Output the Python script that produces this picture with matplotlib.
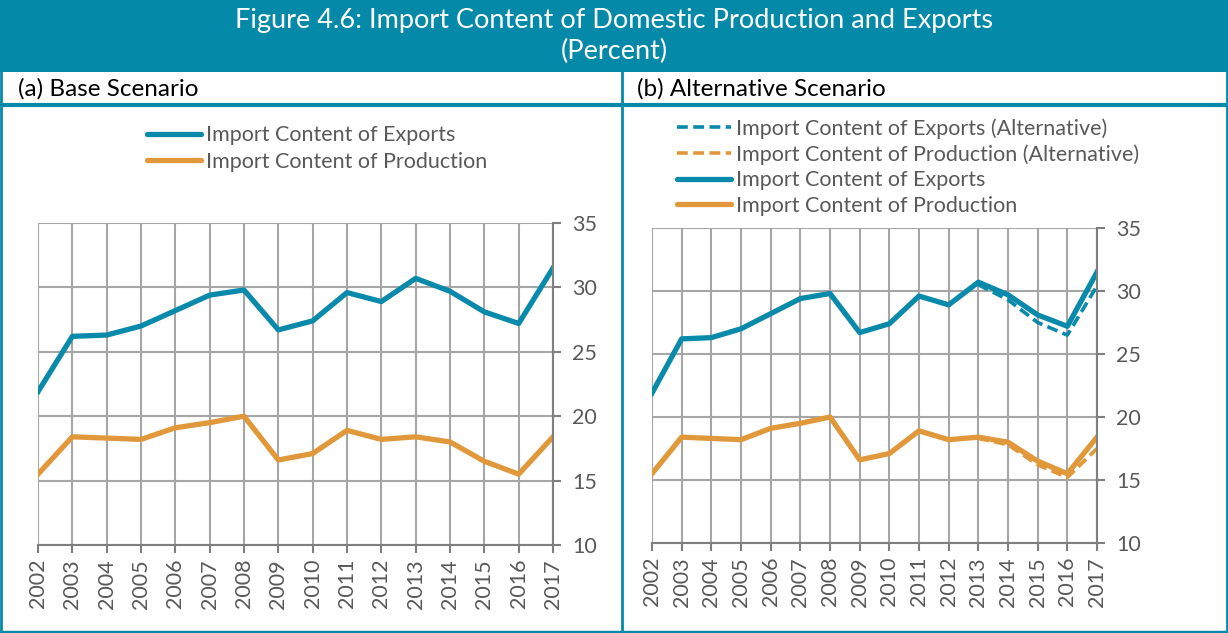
import numpy as np
import matplotlib.pyplot as plt
from matplotlib.lines import Line2D
from matplotlib.patches import Rectangle

# Chart values
years = list(range(2002, 2018))
exports = [21.9, 26.2, 26.3, 27.0, 28.2, 29.4, 29.8, 26.7, 27.4, 29.6,
           28.9, 30.7, 29.7, 28.1, 27.2, 31.5]
production = [15.5, 18.4, 18.3, 18.2, 19.1, 19.5, 20.0, 16.6, 17.1, 18.9,
              18.2, 18.4, 18.0, 16.5, 15.5, 18.4]
# alternative scenario only departs from 2013 onwards
exports_alt = [np.nan] * 11 + [30.5, 29.3, 27.5, 26.5, 30.4]
production_alt = [np.nan] * 11 + [18.3, 17.8, 16.2, 15.2, 17.5]

title = 'Figure 4.6: Import Content of Domestic Production and Exports\n(Percent)'
panel_titles = ['(a) Base Scenario', '(b) Alternative Scenario']
yticks = [10, 15, 20, 25, 30, 35]

teal = '#0A8AAA'
orange = '#E0983A'
frame = '#0589A8'
grey = '#A6A6A6'
textc = '#595959'

plt.rcParams['font.family'] = ['Lato', 'DejaVu Sans']

W, H = 1228, 633
fig = plt.figure(figsize=(W / 100, H / 100), dpi=100)


def box(x0, y0, x1, y1):
    # pixel box (top-left origin) -> figure fraction rect
    return [x0 / W, 1 - y1 / H, (x1 - x0) / W, (y1 - y0) / H]


# background, banner and frame lines
bg = fig.add_axes([0, 0, 1, 1])
bg.set_xlim(0, W)
bg.set_ylim(H, 0)
bg.axis('off')
bg.add_patch(Rectangle((0, 0), W, 72, color=frame, lw=0))
bg.text(W / 2, 36, title, color='white', fontsize=19.5, ha='center', va='center',
        linespacing=1.25)
bg.plot([1, 1], [72, 632], color=frame, lw=2)
bg.plot([W - 1.5, W - 1.5], [0, 632], color=frame, lw=2)
bg.plot([0, W], [631.5, 631.5], color=frame, lw=2.5)
bg.plot([622, 622], [72, 632], color=frame, lw=2)
bg.plot([0, W], [104.5, 104.5], color=frame, lw=3)
bg.text(18, 89, panel_titles[0], fontsize=17.5, va='center', color='black')
bg.text(637, 89, panel_titles[1], fontsize=17.5, va='center', color='black')


def style_axes(ax):
    ax.set_xlim(years[0], years[-1])
    ax.set_ylim(10, 35)
    ax.set_xticks(years)
    ax.set_xticklabels([str(y) for y in years], rotation=90)
    ax.set_yticks(yticks)
    ax.yaxis.tick_right()
    ax.grid(True, color=grey, lw=1.5)
    ax.set_axisbelow(True)
    for s in ['left', 'top']:
        ax.spines[s].set_visible(False)
    for s in ['bottom', 'right']:
        ax.spines[s].set_color('#7F7F7F')
        ax.spines[s].set_linewidth(1.5)
    ax.tick_params(axis='both', colors='#7F7F7F', length=6, width=1.5,
                   labelcolor=textc, labelsize=15.5)
    ax.tick_params(axis='y', pad=8)
    ax.tick_params(axis='x', pad=4)


# (a) Base Scenario
ax1 = fig.add_axes(box(38, 223, 553, 545))
ax1.plot(years, exports, color=teal, lw=3.8, solid_joinstyle='round')
ax1.plot(years, production, color=orange, lw=3.8, solid_joinstyle='round')
style_axes(ax1)
handles1 = [Line2D([0], [0], color=teal, lw=3.8, solid_capstyle='round'),
            Line2D([0], [0], color=orange, lw=3.8, solid_capstyle='round')]
fig.legend(handles1, ['Import Content of Exports', 'Import Content of Production'],
           loc='upper left', bbox_to_anchor=(128 / W, 1 - 106 / H), frameon=False,
           fontsize=15.5, handlelength=2.5, handletextpad=0.2, labelspacing=0.3,
           labelcolor=textc)

# (b) Alternative Scenario
ax2 = fig.add_axes(box(652, 228, 1097, 543))
ax2.plot(years, exports_alt, color=teal, lw=2.6, ls=(0, (3, 1.5)))
ax2.plot(years, production_alt, color=orange, lw=2.6, ls=(0, (3, 1.5)))
ax2.plot(years, exports, color=teal, lw=3.8, solid_joinstyle='round')
ax2.plot(years, production, color=orange, lw=3.8, solid_joinstyle='round')
style_axes(ax2)
handles2 = [Line2D([0], [0], color=teal, lw=2.6, ls=(0, (3, 1.5))),
            Line2D([0], [0], color=orange, lw=2.6, ls=(0, (3, 1.5))),
            Line2D([0], [0], color=teal, lw=3.8, solid_capstyle='round'),
            Line2D([0], [0], color=orange, lw=3.8, solid_capstyle='round')]
fig.legend(handles2, ['Import Content of Exports (Alternative)',
                      'Import Content of Production (Alternative)',
                      'Import Content of Exports', 'Import Content of Production'],
           loc='upper left', bbox_to_anchor=(658 / W, 1 - 99 / H), frameon=False,
           fontsize=15.5, handlelength=2.5, handletextpad=0.2, labelspacing=0.25,
           labelcolor=textc)

fig.savefig('out.png', dpi=100)
